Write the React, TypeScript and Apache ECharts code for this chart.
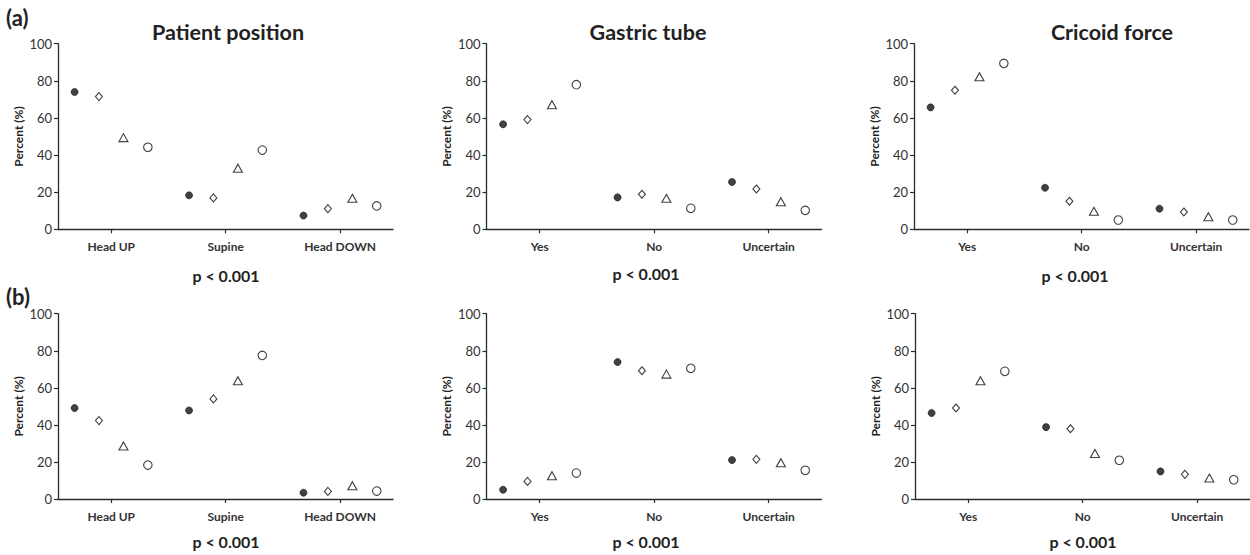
import React, { useEffect, useRef } from "react";
import * as echarts from "echarts";

// ---- data ----
const positionCategories = ["Head UP", "Supine", "Head DOWN"];
const answerCategories = ["Yes", "No", "Uncertain"];
const panelTitles = ["Patient position", "Gastric tube", "Cricoid force"];
const rowLabels = ["(a)", "(b)"];
const pValueText = "p < 0.001";
const yTicks = [0, 20, 40, 60, 80, 100];

// each panel: 4 groups (filled circle, diamond, triangle, open circle) x 3 categories
const patientA = [
  [74, 18.3, 7.4],
  [71.5, 16.9, 11.1],
  [49.4, 32.9, 16.7],
  [44.2, 42.7, 12.6],
];
const gastricA = [
  [56.6, 17.2, 25.5],
  [59.1, 18.9, 21.7],
  [67.1, 16.7, 14.9],
  [77.9, 11.3, 10.2],
];
const cricoidA = [
  [65.7, 22.4, 11.1],
  [74.9, 15.1, 9.3],
  [82.2, 9.7, 6.8],
  [89.4, 5.0, 5.0],
];
const patientB = [
  [49.1, 47.8, 3.4],
  [42.3, 54.0, 4.1],
  [28.6, 63.8, 7.2],
  [18.3, 77.5, 4.3],
];
const gastricB = [
  [5.0, 73.9, 21.0],
  [9.5, 69.2, 21.4],
  [12.6, 67.4, 19.6],
  [14.0, 70.5, 15.5],
];
const cricoidB = [
  [46.4, 38.8, 14.9],
  [49.1, 37.9, 13.3],
  [63.8, 24.6, 11.3],
  [68.9, 20.9, 10.4],
];

// ---- layout / style ----
const GROUP_OFFSETS = [-0.32, -0.107, 0.107, 0.32];
const FONT = "Lato, 'Open Sans', sans-serif";
const AXIS_COLOR = "#2b2b2b";
const TEXT_COLOR = "#333333";

const groupStyles = [
  { symbol: "circle", symbolSize: 7, itemStyle: { color: "#111", borderColor: "#111", borderWidth: 0.8 } },
  { symbol: "diamond", symbolSize: [7, 8], itemStyle: { color: "#fff", borderColor: "#111", borderWidth: 1.1 } },
  { symbol: "triangle", symbolSize: [9, 8], itemStyle: { color: "#fff", borderColor: "#111", borderWidth: 1.1 } },
  { symbol: "circle", symbolSize: 8.5, itemStyle: { color: "#fff", borderColor: "#111", borderWidth: 1.1 } },
];

const panels = [
  { data: patientA, cats: positionCategories, left: 58, top: 43.7, height: 185.6 },
  { data: gastricA, cats: answerCategories, left: 486.5, top: 43.7, height: 185.6 },
  { data: cricoidA, cats: answerCategories, left: 914, top: 43.7, height: 185.6 },
  { data: patientB, cats: positionCategories, left: 58, top: 313.7, height: 185.3 },
  { data: gastricB, cats: answerCategories, left: 486.5, top: 313.7, height: 185.3 },
  { data: cricoidB, cats: answerCategories, left: 915, top: 313.7, height: 185.3 },
];

const GRID_WIDTH = 335;
const X_MIN = 0.535;
const X_MAX = 3.462;

function buildOption() {
  const grid: any[] = [];
  const xAxis: any[] = [];
  const yAxis: any[] = [];
  const series: any[] = [];

  panels.forEach((p, i) => {
    grid.push({
      left: p.left,
      top: p.top,
      width: GRID_WIDTH,
      height: p.height,
      containLabel: false,
      outerBoundsMode: "none",
    });
    xAxis.push({
      gridIndex: i,
      type: "value",
      min: X_MIN,
      max: X_MAX,
      splitLine: { show: false },
      axisLine: { show: true, onZero: false, lineStyle: { color: AXIS_COLOR, width: 1.3 } },
      axisTick: {
        show: true,
        customValues: [1, 2, 3],
        length: 4,
        lineStyle: { color: AXIS_COLOR, width: 1.2 },
      },
      axisLabel: {
        customValues: [1, 2, 3],
        formatter: (v: number) => p.cats[Math.round(v) - 1] ?? "",
        fontFamily: FONT,
        fontWeight: "bold",
        fontSize: 12,
        color: TEXT_COLOR,
        margin: 11,
      },
    });
    yAxis.push({
      gridIndex: i,
      type: "value",
      min: yTicks[0],
      max: yTicks[yTicks.length - 1],
      interval: 20,
      splitLine: { show: false },
      axisLine: { show: true, onZero: false, lineStyle: { color: AXIS_COLOR, width: 1.3 } },
      axisTick: { show: true, length: 4, lineStyle: { color: AXIS_COLOR, width: 1.2 } },
      axisLabel: {
        fontFamily: FONT,
        fontSize: 13,
        color: TEXT_COLOR,
        margin: 6,
      },
      name: "Percent (%)",
      nameLocation: "middle",
      nameGap: 34,
      nameTextStyle: {
        fontFamily: FONT,
        fontWeight: "bold",
        fontSize: 12,
        color: "#222",
      },
    });
    p.data.forEach((vals, g) => {
      series.push({
        type: "scatter",
        xAxisIndex: i,
        yAxisIndex: i,
        symbol: groupStyles[g].symbol,
        symbolSize: groupStyles[g].symbolSize,
        itemStyle: groupStyles[g].itemStyle,
        silent: true,
        data: vals.map((v, k) => [k + 1 + GROUP_OFFSETS[g], v]),
      });
    });
  });

  const titlePos = [
    { x: 228, y: 32 },
    { x: 648, y: 32 },
    { x: 1112, y: 32 },
  ];
  const pPos = [
    { x: 226, y: 275 },
    { x: 646, y: 273 },
    { x: 1075, y: 275 },
    { x: 226, y: 541 },
    { x: 646, y: 541 },
    { x: 1083, y: 541 },
  ];
  const rowPos = [
    { x: 6, y: 17 },
    { x: 6, y: 296 },
  ];

  const graphic: any[] = [];
  panelTitles.forEach((t, i) =>
    graphic.push({
      type: "text",
      x: titlePos[i].x,
      y: titlePos[i].y,
      style: {
        text: t,
        fontFamily: FONT,
        fontWeight: "bold",
        fontSize: 21.5,
        fill: "#222",
        textAlign: "center",
        textVerticalAlign: "middle",
      },
    })
  );
  pPos.forEach((pp) =>
    graphic.push({
      type: "text",
      x: pp.x,
      y: pp.y,
      style: {
        text: pValueText,
        fontFamily: FONT,
        fontWeight: "bold",
        fontSize: 16,
        fill: "#222",
        textAlign: "center",
        textVerticalAlign: "middle",
      },
    })
  );
  rowLabels.forEach((t, i) =>
    graphic.push({
      type: "text",
      x: rowPos[i].x,
      y: rowPos[i].y,
      style: {
        text: t,
        fontFamily: FONT,
        fontWeight: "bold",
        fontSize: 22,
        fill: "#222",
        textAlign: "left",
        textVerticalAlign: "middle",
      },
    })
  );

  return {
    animation: false,
    backgroundColor: "#ffffff",
    grid,
    xAxis,
    yAxis,
    series,
    graphic,
  };
}

export default function App() {
  const ref = useRef<HTMLDivElement>(null);
  useEffect(() => {
    if (!ref.current) return;
    const chart = echarts.init(ref.current, null, { renderer: "svg" });
    chart.setOption(buildOption() as any);
    return () => chart.dispose();
  }, []);
  return (
    <div
      ref={ref}
      style={{ position: "absolute", left: 0, top: 0, width: 1250, height: 555, background: "#fff" }}
    />
  );
}
